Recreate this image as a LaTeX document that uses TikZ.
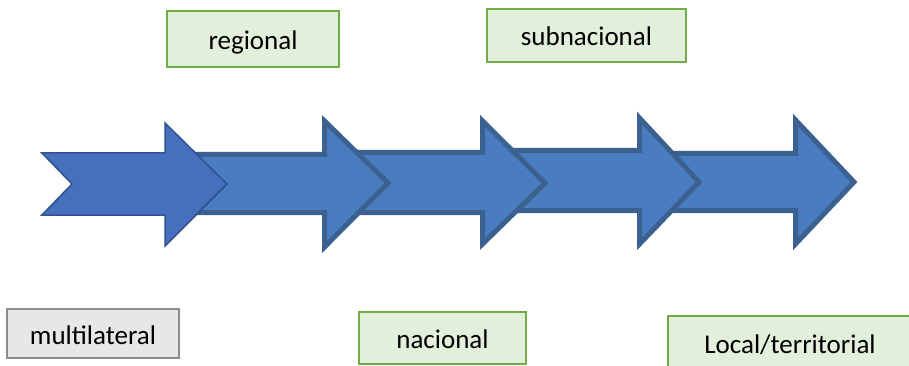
\documentclass[tikz,border=0pt]{standalone}
\usepackage{fontspec}
\setmainfont{Carlito}
\definecolor{arrfill}{HTML}{4A7DBF}
\definecolor{arrline}{HTML}{3A6190}
\definecolor{arrfillA}{HTML}{466FBD}
\definecolor{arrlineA}{HTML}{2F528F}
\definecolor{gfill}{HTML}{E2EFDA}
\definecolor{gline}{HTML}{70AD47}
\definecolor{grfill}{HTML}{E6E7E8}
\definecolor{grline}{HTML}{8C8C8C}
\tikzset{
  bigarrow/.style={fill=arrfill, draw=arrline, line width=5pt, line join=miter},
  firstarrow/.style={fill=arrfillA, draw=arrlineA, line width=1.5pt, line join=miter},
  levelbox/.style={draw=gline, fill=gfill, line width=1.5pt, inner sep=0pt,
     font=\fontsize{27}{32}\selectfont, text height=22pt, text depth=1pt},
  graybox/.style={levelbox, draw=grline, fill=grfill}
}
\begin{document}
\begin{tikzpicture}[x=1pt,y=-1pt]
\clip (0,0) rectangle (909,366);
\fill[white] (0,0) rectangle (909,366);
% arrow 5
\draw[bigarrow] (660,153.5) -- (795.5,153.5) -- (795.5,120) -- (854,182) -- (795.5,244) -- (795.5,210.5) -- (660,210.5) -- cycle;
% arrow 4
\draw[bigarrow] (500,150.5) -- (639.5,150.5) -- (639.5,118) -- (699,182) -- (639.5,244) -- (639.5,210.5) -- (500,210.5) -- cycle;
% arrow 3
\draw[bigarrow] (345,152.5) -- (482.5,152.5) -- (482.5,121) -- (545,183) -- (482.5,244) -- (482.5,212.5) -- (345,212.5) -- cycle;
% arrow 2
\draw[bigarrow] (188,154.5) -- (324.5,154.5) -- (324.5,121) -- (388,183) -- (324.5,247) -- (324.5,212.5) -- (188,212.5) -- cycle;
% arrow 1
\draw[firstarrow] (42,153) -- (165,153) -- (165,123) -- (227,184) -- (165,246) -- (165,215) -- (42,215) -- (72,184) -- cycle;
% boxes
\node[levelbox, minimum width=172, minimum height=56] (regional) at (253,39) {regional};
\node[levelbox, minimum width=199, minimum height=53] (subnacional) at (586.5,35.5) {subnacional};
\node[graybox, minimum width=172, minimum height=49] (multilateral) at (93,333.5) {multilateral};
\node[levelbox, minimum width=167, minimum height=52] (nacional) at (442.5,338) {nacional};
\node[levelbox, minimum width=244, minimum height=54] (local) at (790,343) {Local/territorial};
\end{tikzpicture}
\end{document}
